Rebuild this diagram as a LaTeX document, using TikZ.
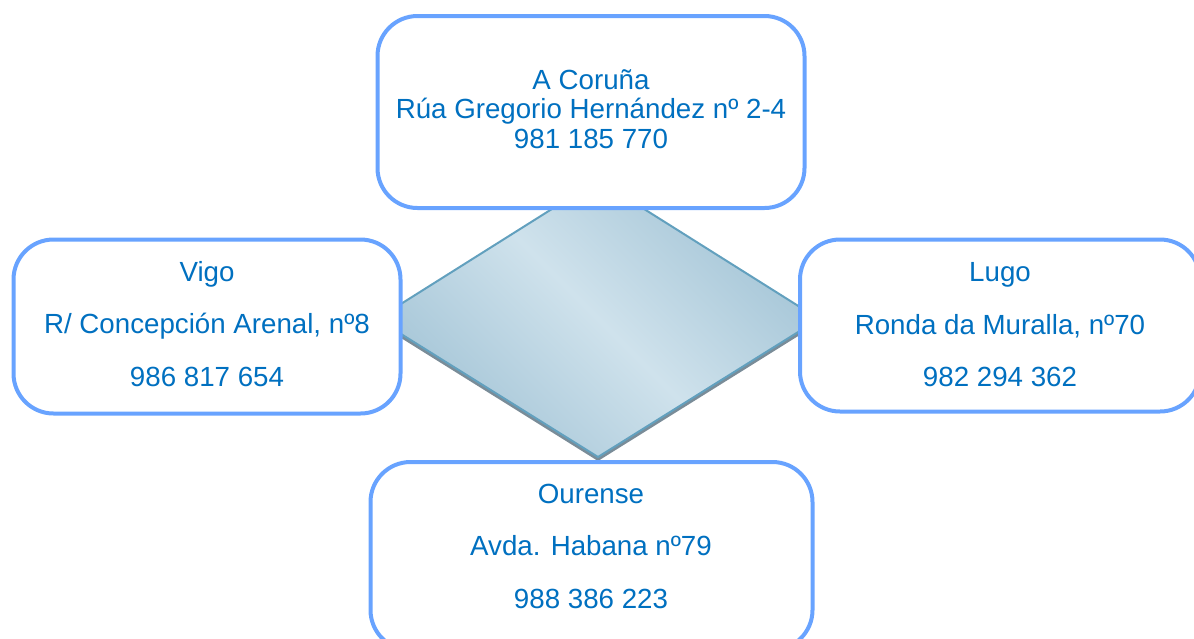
\documentclass[tikz,border=0pt]{standalone}
\usepackage{fontspec}
\setmainfont{Liberation Sans}
\definecolor{boxblue}{RGB}{104,163,255}
\definecolor{txtblue}{RGB}{0,112,192}
\definecolor{dmdedge}{RGB}{98,160,190}
\definecolor{dmdlight}{RGB}{207,226,236}
\definecolor{dmddark}{RGB}{163,196,214}
\definecolor{dmdshadow}{RGB}{122,140,152}
\begin{document}
\begin{tikzpicture}[x=1pt,y=-1pt,
  officebox/.style={draw=boxblue, line width=4pt, rounded corners=40pt, fill=white, inner sep=0pt},
  officetext/.style={text=txtblue, align=center, inner sep=0pt, font=\fontsize{27.7}{52.5}\selectfont},
  toptext/.style={officetext, font=\fontsize{27.7}{29.5}\selectfont}]
\useasboundingbox (0,0) rectangle (1194,638);
% central diamond
\fill[dmdshadow] (598,184) -- (819,323) -- (598,461) -- (377,323) -- cycle;
\shade[top color=dmddark, bottom color=dmddark, middle color=dmdlight, shading angle=-45]
  (598,180) -- (819,319) -- (598,457) -- (377,319) -- cycle;
\draw[dmdedge, line width=2pt, line join=round]
  (598,180) -- (819,319) -- (598,457) -- (377,319) -- cycle;
% boxes
\node[officebox, minimum width=427pt, minimum height=192pt] (coruna) at (591,112) {};
\node[officebox, minimum width=387pt, minimum height=174pt] (vigo) at (207,326.5) {};
\node[officebox, minimum width=400pt, minimum height=172pt] (lugo) at (1000,325.5) {};
\node[officebox, minimum width=442pt, minimum height=188pt] (ourense) at (591.5,556) {};
% texts
\node[toptext] (corunatext) at (591,109) {A Coruña\\Rúa Gregorio Hernández nº 2-4\\981 185 770};
\node[officetext] (vigotext) at (207,324) {Vigo\\R/ Concepción Arenal, nº8\\986 817 654};
\node[officetext] (lugotext) at (1000,325) {Lugo\\Ronda da Muralla, nº70\\982 294 362};
\node[officetext] (ourensetext) at (591,546) {Ourense\\Avda. Habana nº79\\988 386 223};
\end{tikzpicture}
\end{document}
